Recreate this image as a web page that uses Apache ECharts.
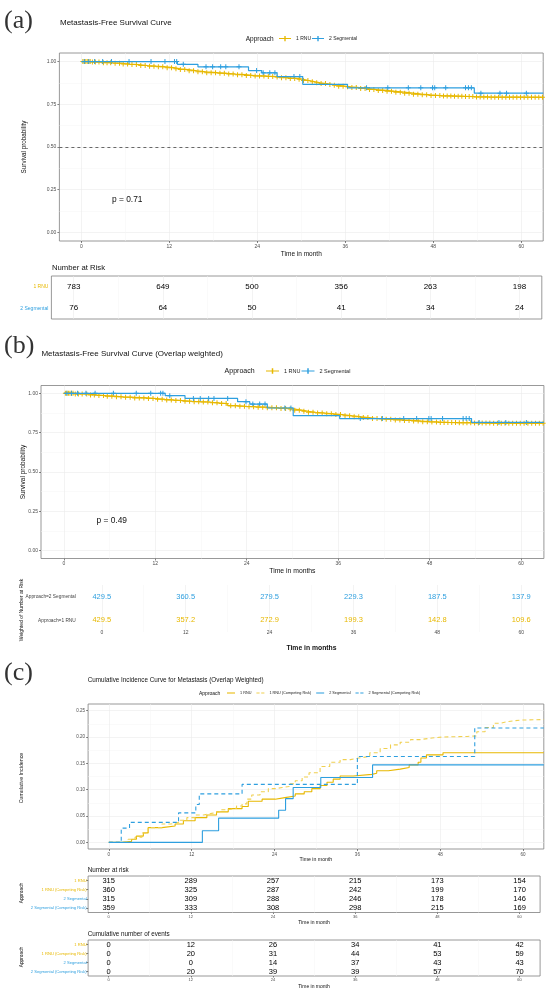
<!DOCTYPE html>
<html>
<head>
<meta charset="utf-8">
<script src="https://cdn.jsdelivr.net/npm/echarts@6/dist/echarts.min.js"></script>
<style>
  html, body { margin: 0; padding: 0; background: #fff; }
  #chart { width: 550px; height: 995px; }
</style>
</head>
<body>
<div id="chart"></div>
<script>
// ---- axis ticks ----
var months = [0, 12, 24, 36, 48, 60];
var minorMonths = [6, 18, 30, 42, 54];
var survTicks = [0, 0.25, 0.5, 0.75, 1];
var survMinor = [0.125, 0.375, 0.625, 0.875];
var cifTicks = [0, 0.05, 0.1, 0.15, 0.2, 0.25];
var cifMinor = [0.025, 0.075, 0.125, 0.175, 0.225];

// ---- (a) Kaplan-Meier, unweighted ----
var rnuA_t = [0, 1.5, 3, 4.2, 5.5, 6.5, 7.8, 9, 10.2, 11.5, 12.6, 13.5, 14.6, 15.8, 17, 18.5, 19.8, 21, 22.4, 23.6, 25.2, 26.5, 27.3, 28.4, 29.5, 30.3, 31, 31.8, 32.6, 33.4, 34.2, 35, 35.9, 36.8, 38, 39.2, 40.4, 41.6, 42.8, 44, 45.2, 46.4, 47.6, 49, 50.5, 52, 53.6, 55.5, 63];
var rnuA_s = [1, 0.997, 0.993, 0.99, 0.985, 0.982, 0.977, 0.973, 0.969, 0.964, 0.958, 0.953, 0.946, 0.94, 0.935, 0.931, 0.927, 0.923, 0.918, 0.915, 0.912, 0.909, 0.905, 0.901, 0.896, 0.889, 0.882, 0.876, 0.871, 0.866, 0.861, 0.856, 0.852, 0.848, 0.842, 0.836, 0.831, 0.826, 0.821, 0.815, 0.809, 0.805, 0.801, 0.799, 0.797, 0.795, 0.793, 0.791, 0.791];
var segA_t = [0, 13.1, 15.9, 22.8, 24.6, 26.7, 30.2, 36.3, 53.6, 63];
var segA_s = [1, 0.984, 0.969, 0.947, 0.934, 0.912, 0.867, 0.846, 0.815, 0.815];

// ---- (b) Kaplan-Meier, overlap weighted ----
var rnuB_t = [0, 1.5, 3.1, 4.3, 5.4, 6.6, 7.7, 9.3, 11, 12.2, 13.3, 14.4, 15.6, 16.8, 17.9, 19, 20.2, 21.5, 22.6, 23.8, 25.2, 26.6, 28, 29.4, 30.3, 31.2, 32.1, 33, 34.2, 35.4, 36.5, 37.7, 38.8, 40, 41.2, 42.3, 43.5, 44.6, 45.8, 46.9, 48, 49.2, 50.4, 51.5, 53.8, 56.1, 63];
var rnuB_s = [1, 0.996, 0.99, 0.986, 0.982, 0.978, 0.975, 0.971, 0.967, 0.962, 0.958, 0.954, 0.95, 0.947, 0.945, 0.94, 0.935, 0.922, 0.918, 0.915, 0.912, 0.908, 0.904, 0.9, 0.893, 0.886, 0.88, 0.875, 0.87, 0.865, 0.858, 0.852, 0.846, 0.84, 0.838, 0.835, 0.831, 0.828, 0.824, 0.82, 0.818, 0.815, 0.814, 0.813, 0.811, 0.81, 0.81];
var segB_t = [0, 13.3, 15.9, 22.8, 24.4, 26.7, 30.1, 36.2, 53.5, 63];
var segB_s = [1, 0.985, 0.968, 0.947, 0.932, 0.907, 0.858, 0.84, 0.815, 0.815];

// censoring times (same patients in both panels)
var cenRnu = [0.2, 0.4, 0.6, 0.8, 1.0, 1.2, 1.5, 1.9, 2.4, 3.0, 3.5, 4.0, 4.6, 5.2, 5.7, 6.3, 6.9, 7.5, 8.1, 8.7, 9.3, 9.9, 10.5, 11.1, 11.7, 12.3, 12.9, 13.5, 14.1, 14.7, 15.3, 15.9, 16.5, 17.1, 17.7, 18.3, 18.9, 19.5, 20.1, 20.7, 21.3, 21.9, 22.5, 23.1, 23.7, 24.3, 24.9, 25.5, 26.1, 26.7, 27.3, 27.9, 28.5, 29.1, 29.7, 30.3, 30.9, 31.5, 32.1, 32.7, 33.3, 33.9, 34.5, 35.1, 35.7, 36.3, 36.9, 37.5, 38.1, 38.7, 39.3, 39.9, 40.5, 41.1, 41.7, 42.3, 42.9, 43.5, 44.1, 44.7, 45.3, 45.9, 46.5, 47.1, 47.7, 48.3, 48.9, 49.4, 49.9, 50.4, 50.9, 51.4, 51.9, 52.4, 52.9, 53.4, 53.9, 54.4, 54.9, 55.4, 55.9, 56.4, 56.9, 57.4, 57.9, 58.4, 58.9, 59.4, 59.9, 60.4, 60.9, 61.4, 61.9, 62.4, 62.9];
var cenSeg = [0.4, 1.0, 1.8, 2.9, 4.1, 6.5, 9.5, 11.4, 12.7, 13.0, 13.9, 17.0, 17.9, 19.0, 19.7, 21.5, 23.9, 24.8, 25.7, 26.4, 29.0, 29.8, 38.9, 41.8, 44.6, 46.3, 47.9, 48.2, 49.7, 52.4, 52.8, 53.2, 54.5, 57.1, 58.0, 60.7];

// ---- (c) cumulative incidence ----
var rnuC_t = [0, 2.0, 3.3, 4.0, 5.0, 5.7, 7.7, 9.6, 10.8, 12.5, 14.2, 15.6, 17.3, 19.3, 20.2, 22.2, 24.1, 25.5, 27.0, 28.3, 29.4, 30.6, 31.6, 32.5, 33.5, 35.4, 38.1, 38.8, 40.5, 42.2, 43.5, 44.8, 45.2, 46.0, 48.4, 63];
var rnuC_s = [0, 0.002, 0.006, 0.012, 0.018, 0.028, 0.031, 0.035, 0.041, 0.047, 0.052, 0.058, 0.064, 0.068, 0.078, 0.082, 0.085, 0.088, 0.092, 0.096, 0.102, 0.108, 0.114, 0.12, 0.126, 0.129, 0.131, 0.136, 0.139, 0.142, 0.147, 0.152, 0.16, 0.166, 0.17, 0.171];
var rnuCR_t = [0, 1.9, 2.8, 3.8, 4.8, 5.7, 7.7, 9.0, 10.1, 11.3, 12.5, 13.7, 14.9, 16.1, 17.3, 18.5, 19.3, 20.0, 20.7, 21.9, 23.1, 24.2, 25.1, 26.1, 27.0, 28.0, 29.0, 30.6, 32.0, 33.5, 35.0, 36.2, 37.8, 39.3, 40.8, 42.2, 43.7, 45.1, 46.8, 48.5, 51.9, 53.3, 54.5, 55.7, 56.7, 57.7, 59.6, 63];
var rnuCR_s = [0, 0.002, 0.006, 0.01, 0.018, 0.028, 0.035, 0.038, 0.042, 0.047, 0.052, 0.055, 0.058, 0.062, 0.065, 0.069, 0.073, 0.082, 0.09, 0.096, 0.102, 0.104, 0.106, 0.111, 0.117, 0.124, 0.132, 0.144, 0.152, 0.157, 0.16, 0.163, 0.17, 0.178, 0.185, 0.19, 0.195, 0.198, 0.2, 0.201, 0.202, 0.21, 0.218, 0.226, 0.229, 0.232, 0.233, 0.233];
var segC_t = [0, 13.55, 15.9, 24.6, 25.6, 26.7, 30.7, 38.2, 63];
var segC_s = [0, 0.022, 0.046, 0.061, 0.083, 0.104, 0.123, 0.147, 0.147];
var segCR_t = [0, 1.8, 3.0, 10.1, 12.6, 13.1, 19.3, 36.0, 53.0, 63];
var segCR_s = [0, 0.027, 0.038, 0.056, 0.072, 0.092, 0.11, 0.163, 0.217, 0.217];

// ---- tables ----
var riskA_rnu = [783, 649, 500, 356, 263, 198];
var riskA_seg = [76, 64, 50, 41, 34, 24];
var wB_seg = [429.5, 360.5, 279.5, 229.3, 187.5, 137.9];
var wB_rnu = [429.5, 357.2, 272.9, 199.3, 142.8, 109.6];
var riskC_rnu = [315, 289, 257, 215, 173, 154];
var riskC_rnuCR = [360, 325, 287, 242, 199, 170];
var riskC_seg = [315, 309, 288, 246, 178, 146];
var riskC_segCR = [359, 333, 308, 298, 215, 169];
var evC_rnu = [0, 12, 26, 34, 41, 42];
var evC_rnuCR = [0, 20, 31, 44, 53, 59];
var evC_seg = [0, 0, 14, 37, 43, 43];
var evC_segCR = [0, 20, 39, 39, 57, 70];

var YEL = '#E7B800', BLU = '#2E9FDF', YEL_CR = '#F0D050';
var FONT = '"Liberation Sans", Arial, sans-serif';
var SERIF = '"Liberation Serif", "DejaVu Serif", serif';
var PLUS = 'path://M4,0H6V4H10V6H6V10H4V6H0V4H4Z';
var PLUS_LINE = 'path://M0,4.4H14V5.6H0Z M6.2,2H7.8V8H6.2Z';
var KEY_SOLID = 'path://M0,0H10V1.3H0Z';
var KEY_DASH = 'path://M0,0H4V1.3H0Z M6,0H10V1.3H6Z';

function pairs(t, s) { return t.map(function (v, i) { return [v, s[i]]; }); }
function valueAt(t, s, x) {
  var v = s[0];
  for (var i = 0; i < t.length; i++) { if (t[i] <= x) v = s[i]; }
  return v;
}
function marks(t, s, times) { return times.map(function (x) { return [x, valueAt(t, s, x)]; }); }

var grids = [], xAxes = [], yAxes = [], series = [];

function addGrid(box, framed) {
  grids.push(Object.assign({
    show: framed, borderColor: '#7f7f7f', borderWidth: 0.8,
    backgroundColor: 'transparent', containLabel: false, outerBoundsMode: 'none'
  }, box));
  return grids.length - 1;
}

function addX(g, o) {
  var base = { type: 'value', gridIndex: g, min: -3, max: 63, axisLine: { show: false, onZero: false } };
  xAxes.push(Object.assign({}, base, {
    position: 'bottom',
    axisTick: { show: !!o.labels, customValues: months, length: o.tick || 2, lineStyle: { color: '#333', width: 0.6 } },
    axisLabel: { show: !!o.labels, customValues: months, fontSize: o.size || 5, color: '#4d4d4d', margin: o.margin == null ? 3 : o.margin, fontFamily: FONT },
    splitLine: { show: true, lineStyle: { color: '#ebebeb', width: 0.6 } }
  }));
  var idx = xAxes.length - 1;
  xAxes.push(Object.assign({}, base, {
    position: 'top',
    axisTick: { show: false, customValues: minorMonths },
    axisLabel: { show: false, customValues: minorMonths },
    splitLine: { show: true, lineStyle: { color: '#f4f4f4', width: 0.5 } }
  }));
  return idx;
}

function addY(g, min, max, major, minor, size) {
  var base = { type: 'value', gridIndex: g, min: min, max: max, axisLine: { show: false, onZero: false } };
  yAxes.push(Object.assign({}, base, {
    position: 'left',
    axisTick: { show: true, customValues: major, length: 2, lineStyle: { color: '#333', width: 0.6 } },
    axisLabel: { customValues: major, fontSize: size, color: '#4d4d4d', margin: 3, fontFamily: FONT,
      formatter: function (v) { return v.toFixed(2); } },
    splitLine: { show: true, lineStyle: { color: '#ebebeb', width: 0.6 } }
  }));
  var idx = yAxes.length - 1;
  yAxes.push(Object.assign({}, base, {
    position: 'right',
    axisTick: { show: false, customValues: minor },
    axisLabel: { show: false, customValues: minor },
    splitLine: { show: true, lineStyle: { color: '#f4f4f4', width: 0.5 } }
  }));
  return idx;
}

function addRows(g, rows, colors, size, margin, ticks) {
  yAxes.push({
    type: 'category', gridIndex: g, data: rows, boundaryGap: true,
    axisLine: { show: false, onZero: false },
    axisTick: { show: !!ticks, alignWithLabel: true, length: 2, lineStyle: { color: '#333', width: 0.6 } },
    axisLabel: { fontSize: size, margin: margin, fontFamily: FONT,
      color: function (v, i) { return colors[rows.indexOf(v)]; } },
    splitLine: { show: false }
  });
  return yAxes.length - 1;
}

function stepLine(name, xi, yi, t, s, color, width, dash) {
  var sr = {
    name: name, type: 'line', step: 'end', xAxisIndex: xi, yAxisIndex: yi,
    data: pairs(t, s), symbol: 'none', silent: true,
    lineStyle: { color: color, width: width, type: dash || 'solid' },
    itemStyle: { color: color }
  };
  series.push(sr);
  return sr;
}

function censorMarks(xi, yi, t, s, times, color, size) {
  series.push({
    name: 'censor', type: 'scatter', xAxisIndex: xi, yAxisIndex: yi, silent: true,
    data: marks(t, s, times), symbol: PLUS, symbolSize: size,
    itemStyle: { color: color, opacity: 1 }
  });
}

function tableRow(xi, yi, row, values, color, size, digits) {
  series.push({
    name: 'table', type: 'scatter', xAxisIndex: xi, yAxisIndex: yi, silent: true,
    symbolSize: 1, itemStyle: { color: 'rgba(0,0,0,0)' },
    data: values.map(function (v, i) { return [months[i], row, v]; }),
    label: { show: true, position: 'inside', fontSize: size, color: color, fontFamily: FONT,
      opacity: 1, textBorderWidth: 0, fontWeight: 'normal',
      formatter: function (p) { return digits ? p.value[2].toFixed(digits) : String(p.value[2]); } },
    z: 5
  });
}

// ===== (a) =====
var gA = addGrid({ left: 59.4, top: 53, width: 483.8, height: 188 }, true);
var xA = addX(gA, { labels: true, size: 5, margin: 3 });
var yA = addY(gA, -0.05, 1.05, survTicks, survMinor, 5);
stepLine('1 RNU', xA, yA, rnuA_t, rnuA_s, YEL, 1.2);
var segAline = stepLine('2 Segmental', xA, yA, segA_t, segA_s, BLU, 1.2);
segAline.markLine = { silent: true, symbol: 'none', label: { show: false },
  lineStyle: { type: [3, 3], color: '#444', width: 0.8 }, data: [{ yAxis: 0.5 }] };
censorMarks(xA, yA, rnuA_t, rnuA_s, cenRnu, YEL, 5);
censorMarks(xA, yA, segA_t, segA_s, cenSeg, BLU, 5);

var gAt = addGrid({ left: 51.4, top: 276, width: 490.4, height: 43 }, true);
var xAt = addX(gAt, { labels: false });
var rowsA = ['2 Segmental', '1 RNU'];
var yAt = addRows(gAt, rowsA, [BLU, YEL], 5, 3, false);
tableRow(xAt, yAt, '1 RNU', riskA_rnu, '#000', 8);
tableRow(xAt, yAt, '2 Segmental', riskA_seg, '#000', 8);

// ===== (b) =====
var gB = addGrid({ left: 41, top: 385.5, width: 502.9, height: 173 }, true);
var xB = addX(gB, { labels: true, size: 5, margin: 3 });
var yB = addY(gB, -0.05, 1.05, survTicks, survMinor, 5);
stepLine('1 RNU', xB, yB, rnuB_t, rnuB_s, YEL, 1.2);
stepLine('2 Segmental', xB, yB, segB_t, segB_s, BLU, 1.2);
censorMarks(xB, yB, rnuB_t, rnuB_s, cenRnu, YEL, 5);
censorMarks(xB, yB, segB_t, segB_s, cenSeg, BLU, 5);

var gBt = addGrid({ left: 80.8, top: 585, width: 461.4, height: 47 }, false);
var xBt = addX(gBt, { labels: true, size: 5, margin: -2, tick: 0.01 });
var rowsB = ['Approach=1 RNU', 'Approach=2 Segmental'];
var yBt = addRows(gBt, rowsB, ['#444', '#444'], 4.8, 5, false);
tableRow(xBt, yBt, 'Approach=2 Segmental', wB_seg, BLU, 7.5, 1);
tableRow(xBt, yBt, 'Approach=1 RNU', wB_rnu, YEL, 7.5, 1);

// ===== (c) =====
var gC = addGrid({ left: 88.1, top: 704, width: 455.7, height: 145 }, true);
var xC = addX(gC, { labels: true, size: 4.5, margin: 3 });
var yC = addY(gC, -0.0125, 0.2625, cifTicks, cifMinor, 4.5);
stepLine('1 RNU', xC, yC, rnuC_t, rnuC_s, YEL, 1.1);
stepLine('1 RNU (Competing Risk)', xC, yC, rnuCR_t, rnuCR_s, YEL_CR, 1.1, [4, 3]);
stepLine('2 Segmental', xC, yC, segC_t, segC_s, BLU, 1.1);
stepLine('2 Segmental (Competing Risk)', xC, yC, segCR_t, segCR_s, BLU, 1.1, [4, 3]);

var rowsC = ['2 Segmental (Competing Risk)', '2 Segmental', '1 RNU (Competing Risk)', '1 RNU'];
var rowColorsC = [BLU, BLU, YEL, YEL];

var gCt1 = addGrid({ left: 88.1, top: 876, width: 452, height: 36.5 }, true);
var xCt1 = addX(gCt1, { labels: true, size: 4, margin: 2, tick: 1.5 });
var yCt1 = addRows(gCt1, rowsC, rowColorsC, 4.1, 1.5, true);
tableRow(xCt1, yCt1, '1 RNU', riskC_rnu, '#000', 7.5);
tableRow(xCt1, yCt1, '1 RNU (Competing Risk)', riskC_rnuCR, '#000', 7.5);
tableRow(xCt1, yCt1, '2 Segmental', riskC_seg, '#000', 7.5);
tableRow(xCt1, yCt1, '2 Segmental (Competing Risk)', riskC_segCR, '#000', 7.5);

var gCt2 = addGrid({ left: 88.1, top: 940, width: 452, height: 36 }, true);
var xCt2 = addX(gCt2, { labels: true, size: 4, margin: 2, tick: 1.5 });
var yCt2 = addRows(gCt2, rowsC, rowColorsC, 4.1, 1.5, true);
tableRow(xCt2, yCt2, '1 RNU', evC_rnu, '#000', 7.5);
tableRow(xCt2, yCt2, '1 RNU (Competing Risk)', evC_rnuCR, '#000', 7.5);
tableRow(xCt2, yCt2, '2 Segmental', evC_seg, '#000', 7.5);
tableRow(xCt2, yCt2, '2 Segmental (Competing Risk)', evC_segCR, '#000', 7.5);

// ===== legends =====
function plusLegend(left, top, w, h, size) {
  return {
    left: left, top: top, orient: 'horizontal', itemWidth: w, itemHeight: h, itemGap: 1,
    selectedMode: false, padding: 0,
    textStyle: { fontSize: size, color: '#222', fontFamily: FONT },
    data: [
      { name: '1 RNU', icon: PLUS_LINE, itemStyle: { color: YEL, borderWidth: 0 } },
      { name: '2 Segmental', icon: PLUS_LINE, itemStyle: { color: BLU, borderWidth: 0 } }
    ]
  };
}
var legends = [
  plusLegend(279, 36, 12, 6, 5),
  plusLegend(266, 368, 13, 6.5, 5.5),
  {
    left: 227, top: 691, orient: 'horizontal', itemWidth: 8, itemHeight: 1.3, itemGap: 5,
    selectedMode: false, padding: 0,
    textStyle: { fontSize: 3.8, color: '#222', fontFamily: FONT },
    data: [
      { name: '1 RNU', icon: KEY_SOLID, itemStyle: { color: YEL, borderWidth: 0 } },
      { name: '1 RNU (Competing Risk)', icon: KEY_DASH, itemStyle: { color: YEL_CR, borderWidth: 0 } },
      { name: '2 Segmental', icon: KEY_SOLID, itemStyle: { color: BLU, borderWidth: 0 } },
      { name: '2 Segmental (Competing Risk)', icon: KEY_DASH, itemStyle: { color: BLU, borderWidth: 0 } }
    ]
  }
];

// ===== texts =====
function txt(x, y, s, size, o) {
  o = o || {};
  return {
    type: 'text', x: x, y: y, rotation: o.rot || 0, silent: true,
    style: {
      text: s, fontSize: size, fontFamily: o.serif ? SERIF : FONT,
      fontWeight: o.bold ? 'bold' : 'normal', fill: o.color || '#111',
      textAlign: o.align || 'left', textVerticalAlign: 'middle', verticalAlign: 'middle'
    }
  };
}
var V = Math.PI / 2;
var texts = [
  txt(4, 21, '(a)', 26, { serif: true, color: '#333' }),
  txt(60, 22.7, 'Metastasis-Free Survival Curve', 8),
  txt(245.7, 39, 'Approach', 6.5),
  txt(24.6, 147, 'Survival probability', 6.3, { rot: V, align: 'center' }),
  txt(112, 200, 'p = 0.71', 8.4),
  txt(301.3, 254.5, 'Time in month', 6.5, { align: 'center' }),
  txt(52, 268, 'Number at Risk', 7.7),

  txt(4, 346, '(b)', 26, { serif: true, color: '#333' }),
  txt(41.4, 354, 'Metastasis-Free Survival Curve (Overlap weighted)', 8),
  txt(224.6, 371, 'Approach', 7),
  txt(22.8, 472, 'Survival probability', 6.5, { rot: V, align: 'center' }),
  txt(96.5, 521, 'p = 0.49', 8.4),
  txt(292.4, 571, 'Time in months', 6.8, { align: 'center' }),
  txt(21.8, 610, 'Weighted of Number at Risk', 5, { rot: V, align: 'center' }),
  txt(311.5, 648, 'Time in months', 6.8, { align: 'center', bold: true }),

  txt(4, 673, '(c)', 26, { serif: true, color: '#333' }),
  txt(87.8, 680.7, 'Cumulative Incidence Curve for Metastasis (Overlap Weighted)', 6.3),
  txt(199, 693.3, 'Approach', 5),
  txt(21.8, 778, 'Cumulative Incidence', 5.3, { rot: V, align: 'center' }),
  txt(315.9, 860, 'Time in month', 5.2, { align: 'center' }),
  txt(87.8, 870, 'Number at risk', 6.3),
  txt(21.8, 893, 'Approach', 4.8, { rot: V, align: 'center' }),
  txt(314, 922.3, 'Time in month', 5, { align: 'center' }),
  txt(87.8, 934, 'Cumulative number of events', 6.3),
  txt(21.8, 957, 'Approach', 4.8, { rot: V, align: 'center' }),
  txt(314, 986.7, 'Time in month', 5, { align: 'center' })
];

var chart = echarts.init(document.getElementById('chart'));
chart.setOption({
  animation: false,
  backgroundColor: '#fff',
  textStyle: { fontFamily: FONT },
  grid: grids,
  xAxis: xAxes,
  yAxis: yAxes,
  legend: legends,
  series: series,
  graphic: { elements: texts }
});
window.addEventListener('resize', function () { chart.resize(); });
</script>
</body>
</html>
